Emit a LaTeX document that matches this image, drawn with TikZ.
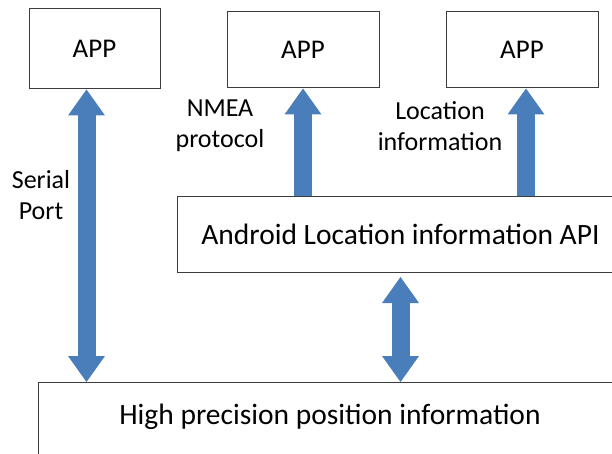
\documentclass[tikz,border=0pt]{standalone}
\usepackage{fontspec}
\setmainfont{Carlito}
\usetikzlibrary{arrows.meta}
\definecolor{arrowblue}{RGB}{74,126,187}
\definecolor{boxline}{RGB}{60,60,60}

\begin{document}
\begin{tikzpicture}[x=1pt, y=-1pt,
        appbox/.style={draw=boxline, line width=1pt, inner sep=0pt,
          minimum width=152pt, minimum height=76pt, font=\fontsize{27}{32}\selectfont},
        layerbox/.style={draw=boxline, line width=1pt, inner sep=0pt, anchor=north west},
        bigtext/.style={font=\fontsize{29.5}{34}\selectfont},
        note/.style={align=center, font=\fontsize{26}{31}\selectfont},
        bigtip/.tip={Triangle[width=37pt, length=26pt, line width=0pt]},
        bigarrow/.style={draw=arrowblue, line width=18pt, -{bigtip}},
        bothways/.style={draw=arrowblue, line width=18pt, {bigtip}-{bigtip}}
      ]
      \useasboundingbox (0,0) rectangle (612,454);
      \clip (0,0) rectangle (612,454);

      % applications on top
      \node[appbox, minimum width=131pt, minimum height=80pt] at (94.5,49) (app1) {APP};
      \node[appbox] at (303,50) (app2) {APP};
      \node[appbox] at (522,50) (app3) {APP};

      % layers
      \node[layerbox, bigtext, minimum width=446pt, minimum height=76pt] at (177,196) (api)
        {Android Location information API};
      \node[layerbox, minimum width=584pt, minimum height=110pt] at (38,382) (hp) {};
      \node[bigtext] at (330,417) (hptext) {High precision position information};

      % arrows
      \draw[bothways] ([xshift=-8pt]app1.south) -- ([xshift=-8pt]app1.south |- hp.north);
      \draw[bigarrow] (app2.south |- api.north) -- (app2.south);
      \draw[bigarrow] ([xshift=4pt]app3.south |- api.north) -- ([xshift=4pt]app3.south);
      \draw[bothways] ([yshift=-4pt]api.south) -- (api.south |- hp.north);

      % labels
      \node[note] at (41,195) (serial) {Serial\\Port};
      \node[note] at (220,126) (nmea) {NMEA\\protocol};
      \node[note] at (440,126) (locinfo) {Location\\information};
  \end{tikzpicture}
\end{document}
